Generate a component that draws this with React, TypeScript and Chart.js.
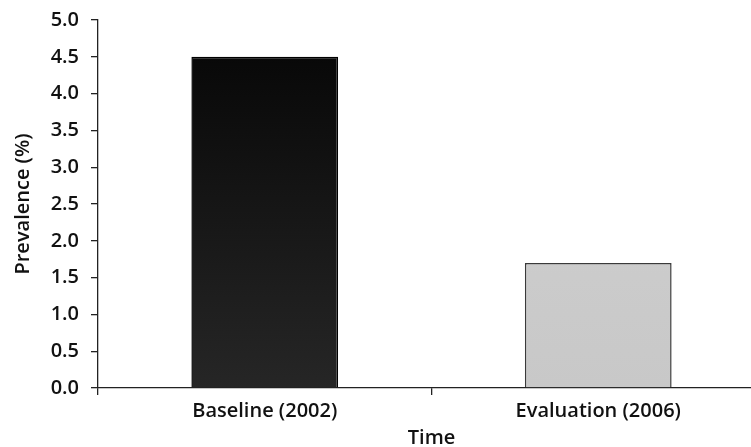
import React, { useEffect, useRef } from "react";
import { Chart, registerables } from "chart.js";

Chart.register(...registerables);

const categories = ["Baseline (2002)", "Evaluation (2006)"];
const prevalence = [4.5, 1.7];
const barTopColors = ["#050505", "#d2d2d2"];
const barBottomColors = ["#262626", "#c8c8c8"];
const barBorderColors = ["#000000", "#3a3a3a"];
const yTitle = "Prevalence (%)";
const xTitle = "Time";

export default function App() {
  const ref = useRef<HTMLCanvasElement | null>(null);
  useEffect(() => {
    if (!ref.current) return;
    const font = { family: "'Open Sans', 'Noto Sans', sans-serif", size: 20, weight: 600 as any };
    const chart = new Chart(ref.current, {
      type: "bar",
      data: {
        labels: categories,
        datasets: [
          {
            data: prevalence,
            backgroundColor: (ctx: any) => {
              const i = ctx.dataIndex;
              const area = ctx.chart.chartArea;
              if (!area) return barTopColors[i];
              const g = ctx.chart.ctx.createLinearGradient(0, area.top, 0, area.bottom);
              g.addColorStop(0, barTopColors[i]);
              g.addColorStop(1, barBottomColors[i]);
              return g;
            },
            borderColor: barBorderColors,
            borderWidth: 1.5,
            barPercentage: 0.44,
            categoryPercentage: 1,
          },
        ],
      },
      options: {
        animation: false,
        responsive: false,
        devicePixelRatio: 1,
        layout: { padding: { top: 9, right: 0, left: 0, bottom: 0 } },
        plugins: { legend: { display: false }, tooltip: { enabled: false } },
        scales: {
          x: {
            offset: true,
            grid: {
              offset: true,
              drawOnChartArea: false,
              drawTicks: true,
              tickLength: 7,
              color: "#222",
              lineWidth: 1.3,
            },
            border: { display: true, color: "#222", width: 1.3 },
            ticks: { color: "#111", font, padding: 4 },
            title: { display: true, text: xTitle, color: "#111", font, padding: { top: 2, bottom: 0 } },
            afterFit: (s: any) => {
              s.height = 62;
            },
          },
          y: {
            min: 0,
            max: 5,
            ticks: {
              stepSize: 0.5,
              color: "#111",
              font,
              padding: 12,
              callback: (v: any) => Number(v).toFixed(1),
            },
            grid: { drawOnChartArea: false, drawTicks: true, tickLength: 7, color: "#222", lineWidth: 1.3 },
            border: { display: true, color: "#222", width: 1.3 },
            title: { display: true, text: yTitle, color: "#111", font, padding: { top: 11, bottom: 4 } },
            afterFit: (s: any) => {
              s.width = 98;
            },
          },
        },
      },
    });
    return () => chart.destroy();
  }, []);
  return (
    <div style={{ position: "fixed", left: 0, top: 0, width: 751, height: 447, overflow: "hidden", background: "#fff" }}>
      <canvas
        ref={ref}
        width={765}
        height={454}
        style={{ position: "absolute", left: 0, top: -4, width: 765, height: 454, display: "block" }}
      />
    </div>
  );
}
